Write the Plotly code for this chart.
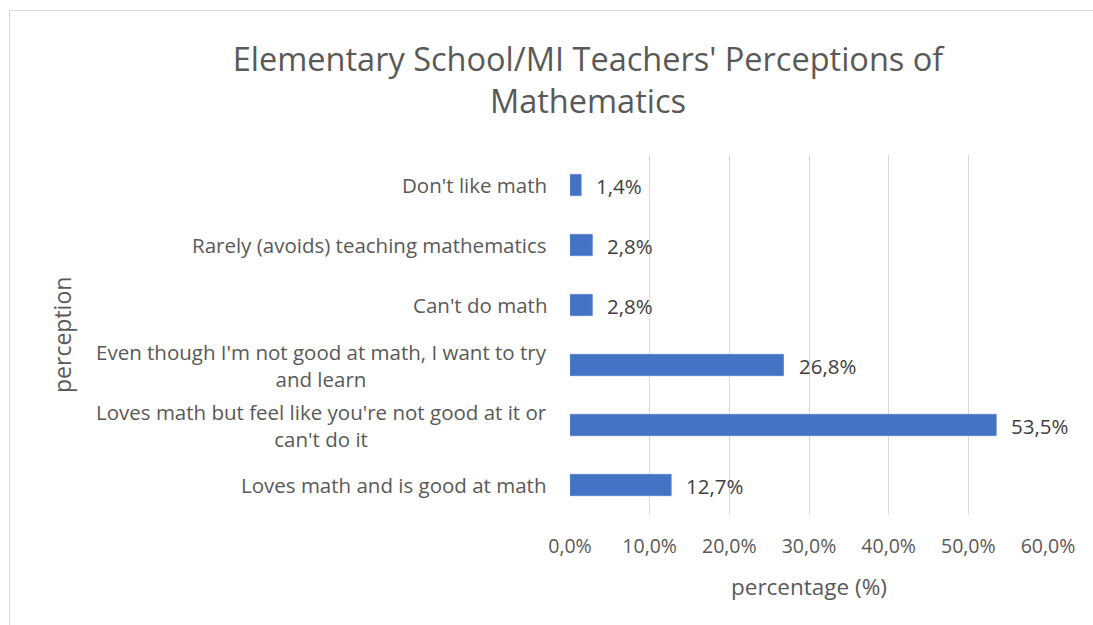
import plotly.graph_objects as go

categories = [
    "Don't like math",
    "Rarely (avoids) teaching mathematics",
    "Can't do math",
    "Even though I'm not good at math, I want to try<br>and learn",
    "Loves math but feel like you're not good at it or<br>can't do it",
    "Loves math and is good at math",
]
values = [1.4, 2.8, 2.8, 26.8, 53.5, 12.7]
tick_vals = [0, 10, 20, 30, 40, 50, 60]
tick_text = ["0,0%", "10,0%", "20,0%", "30,0%", "40,0%", "50,0%", "60,0%"]
title_text = "Elementary School/MI Teachers' Perceptions of<br>Mathematics"

FONT = "Open Sans"
W, H = 1093, 625
L, R, T, B = 570, 45, 155, 110
pw = W - L - R
ph = H - T - B

fig = go.Figure()
fig.add_trace(go.Bar(
    x=values, y=list(range(len(categories))), orientation="h",
    marker=dict(color="#4472C4", line=dict(color="#5b86d2", width=0.8)),
    width=0.355, hoverinfo="x",
))

ann = []
for i, c in enumerate(categories):
    ann.append(dict(x=0, xref="paper", y=i, yref="y", text=c, showarrow=False,
                    xanchor="right", yanchor="middle", align="center", xshift=-21,
                    font=dict(family=FONT, size=20.5, color="#595959")))
for i, v in enumerate(values):
    ann.append(dict(x=v, xref="x", y=i, yref="y", text=f"{v:.1f}".replace(".", ",") + "%",
                    showarrow=False, xanchor="left", yanchor="middle", xshift=13, yshift=-1,
                    font=dict(family=FONT, size=20.5, color="#404040")))
ann.append(dict(x=(62 - L) / pw, xref="paper", y=0.5, yref="paper", text="perception",
                textangle=-90, showarrow=False, xanchor="center", yanchor="middle",
                font=dict(family=FONT, size=23, color="#595959")))
ann.append(dict(x=0.5, xref="paper", y=(515 - 586) / ph, yref="paper", text="percentage (%)",
                showarrow=False, xanchor="center", yanchor="middle",
                font=dict(family=FONT, size=22.5, color="#595959")))

fig.update_layout(
    width=W, height=H, autosize=False,
    margin=dict(l=L, r=R, t=T, b=B),
    paper_bgcolor="white", plot_bgcolor="white",
    showlegend=False,
    title=dict(text=title_text, x=588 / W, xref="container", xanchor="center",
               y=1 - 71 / H, yref="container", yanchor="middle",
               font=dict(family=FONT, size=32.5, color="#595959")),
    xaxis=dict(range=[0, 60], tickvals=tick_vals, ticktext=tick_text,
               showgrid=True, gridcolor="#d9d9d9", gridwidth=1.4, zeroline=False,
               showline=False, ticks="", ticklabelstandoff=17,
               tickfont=dict(family=FONT, size=19.5, color="#595959")),
    yaxis=dict(range=[5.5, -0.5], showticklabels=False, showgrid=False,
               zeroline=False, showline=False, ticks=""),
    annotations=ann,
    shapes=[dict(type="rect", xref="paper", yref="paper",
                 x0=(9.5 - L) / pw, x1=2, y0=-2, y1=(515 - 10.5) / ph,
                 line=dict(color="#d9d9d9", width=1), fillcolor="rgba(0,0,0,0)", layer="below")],
)

fig.write_html("out.html", config={"displayModeBar": False},
               post_script="document.body.style.margin='0';")
